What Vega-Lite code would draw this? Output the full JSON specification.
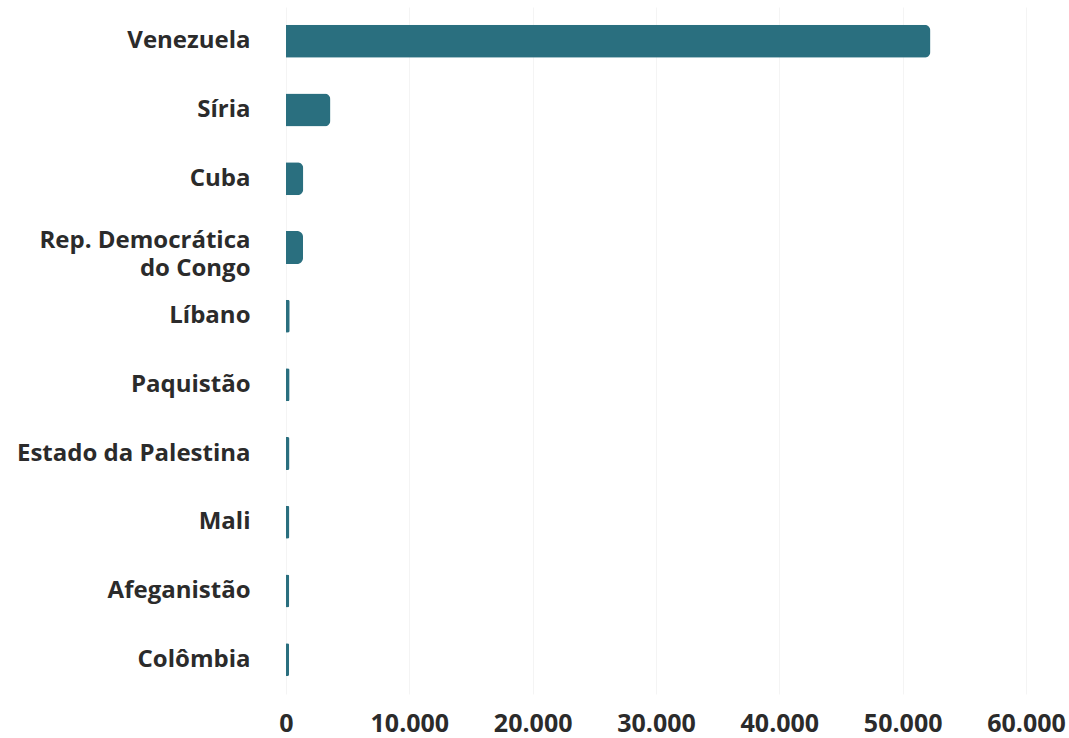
{
  "$schema": "https://vega.github.io/schema/vega-lite/v6.json",
  "width": 740,
  "height": 687,
  "autosize": {"type": "none"},
  "padding": {"left": 286, "top": 7, "right": 43, "bottom": 44},
  "background": "white",
  "data": {
    "values": [
      {"pais": "Venezuela", "valor": 52250},
      {"pais": "Síria", "valor": 3600},
      {"pais": "Cuba", "valor": 1400},
      {"pais": "Rep. Democrática|do Congo", "valor": 1380},
      {"pais": "Líbano", "valor": 300},
      {"pais": "Paquistão", "valor": 290},
      {"pais": "Estado da Palestina", "valor": 280},
      {"pais": "Mali", "valor": 270},
      {"pais": "Afeganistão", "valor": 260},
      {"pais": "Colômbia", "valor": 250}
    ]
  },
  "mark": {"type": "bar", "color": "#2a6f7f", "cornerRadiusEnd": 6},
  "encoding": {
    "y": {
      "field": "pais",
      "type": "nominal",
      "sort": null,
      "scale": {"paddingInner": 0.52, "paddingOuter": 0.26},
      "axis": {
        "title": null,
        "domain": false,
        "ticks": false,
        "labelPadding": 36,
        "labelFont": "Open Sans",
        "labelFontSize": 24,
        "labelFontWeight": "bold",
        "labelColor": "#2b2b2b",
        "labelLineHeight": 28,
        "labelExpr": "split(datum.label, '|')",
        "labelLimit": 300,
        "labelOffset": {
          "condition": {"test": "indexof(datum.value, '|') >= 0", "value": -6},
          "value": 0
        }
      }
    },
    "x": {
      "field": "valor",
      "type": "quantitative",
      "scale": {"domain": [0, 60000]},
      "axis": {
        "title": null,
        "domain": false,
        "ticks": false,
        "values": [0, 10000, 20000, 30000, 40000, 50000, 60000],
        "labelExpr": "replace(format(datum.value, ','), ',', '.')",
        "labelFlush": false,
        "labelBound": false,
        "labelOverlap": false,
        "labelPadding": 17,
        "labelFont": "Open Sans",
        "labelFontSize": 25,
        "labelFontWeight": "bold",
        "labelColor": "#2b2b2b",
        "grid": true,
        "gridColor": "#f4f4f4",
        "gridWidth": 1
      }
    }
  },
  "config": {"view": {"stroke": null}}
}
